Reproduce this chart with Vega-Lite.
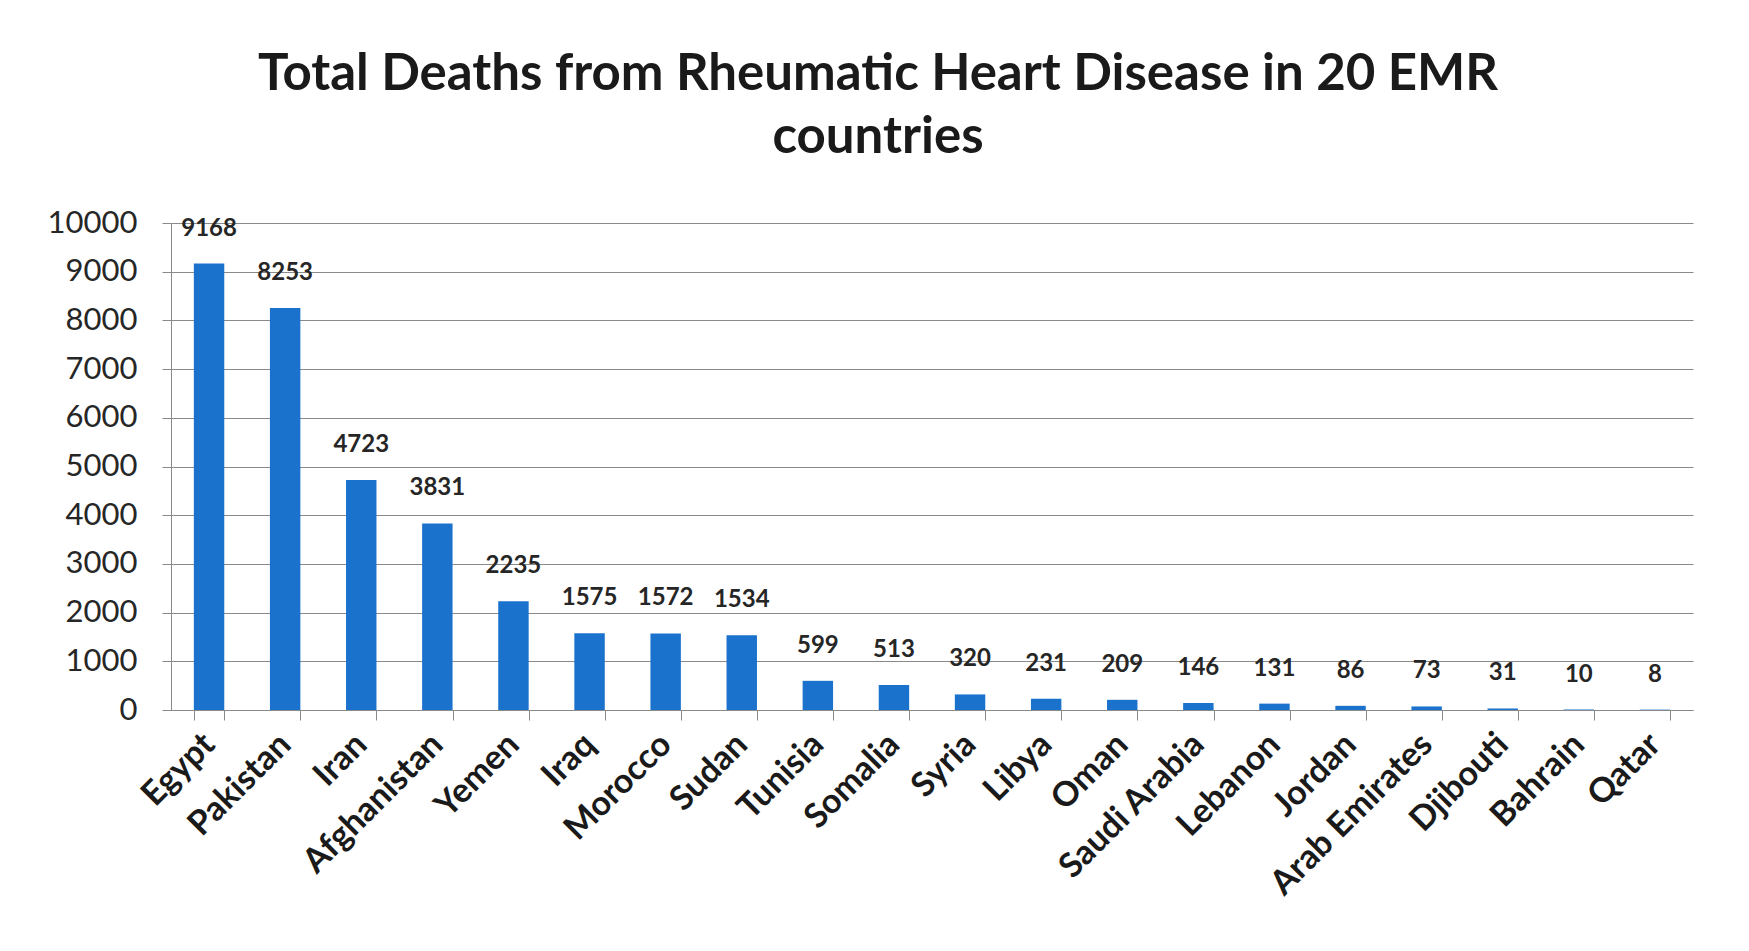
{
  "$schema": "https://vega.github.io/schema/vega-lite/v6.json",
  "autosize": {"type": "none"},
  "width": 1522,
  "height": 487,
  "padding": {"left": 171, "top": 223, "right": 56, "bottom": 241},
  "background": "white",
  "title": {
    "text": ["Total Deaths from Rheumatic Heart Disease in 20 EMR", "countries"],
    "font": "Lato",
    "fontSize": 51,
    "fontWeight": "bold",
    "color": "#1a1a1a",
    "lineHeight": 63,
    "anchor": "middle",
    "frame": "group",
    "baseline": "alphabetic",
    "dx": -54,
    "offset": 3
  },
  "config": {
    "view": {"stroke": null},
    "font": "Lato"
  },
  "data": {
    "values": [
      {"country": "Egypt", "deaths": 9168},
      {"country": "Pakistan", "deaths": 8253},
      {"country": "Iran", "deaths": 4723},
      {"country": "Afghanistan", "deaths": 3831},
      {"country": "Yemen", "deaths": 2235},
      {"country": "Iraq", "deaths": 1575},
      {"country": "Morocco", "deaths": 1572},
      {"country": "Sudan", "deaths": 1534},
      {"country": "Tunisia", "deaths": 599},
      {"country": "Somalia", "deaths": 513},
      {"country": "Syria", "deaths": 320},
      {"country": "Libya", "deaths": 231},
      {"country": "Oman", "deaths": 209},
      {"country": "Saudi Arabia", "deaths": 146},
      {"country": "Lebanon", "deaths": 131},
      {"country": "Jordan", "deaths": 86},
      {"country": "Arab Emirates", "deaths": 73},
      {"country": "Djibouti", "deaths": 31},
      {"country": "Bahrain", "deaths": 10},
      {"country": "Qatar", "deaths": 8}
    ]
  },
  "encoding": {
    "x": {
      "field": "country",
      "type": "nominal",
      "sort": null,
      "title": null,
      "scale": {"paddingInner": 0.6, "paddingOuter": 0.3},
      "axis": {
        "labelAngle": -45,
        "labelAlign": "right",
        "labelBaseline": "middle",
        "labelFont": "Lato",
        "labelFontSize": 34,
        "labelFontWeight": "bold",
        "labelColor": "#1a1a1a",
        "labelPadding": 19,
        "labelLimit": 0,
        "labelOverlap": false,
        "tickBand": "extent",
        "tickSize": 10,
        "tickColor": "#8a8a8a",
        "domainColor": "#8a8a8a",
        "grid": false
      }
    },
    "y": {
      "field": "deaths",
      "type": "quantitative",
      "title": null,
      "scale": {"domain": [0, 10000], "nice": false},
      "axis": {
        "values": [0, 1000, 2000, 3000, 4000, 5000, 6000, 7000, 8000, 9000, 10000],
        "format": "d",
        "labelFont": "Lato",
        "labelFontSize": 31,
        "labelColor": "#262626",
        "labelPadding": 25,
        "tickSize": 9,
        "tickColor": "#8a8a8a",
        "domainColor": "#8a8a8a",
        "gridColor": "#8a8a8a",
        "gridWidth": 1,
        "grid": true
      }
    }
  },
  "layer": [
    {"mark": {"type": "bar", "color": "#1B72CC"}},
    {
      "mark": {
        "type": "text",
        "dy": -35,
        "baseline": "middle",
        "font": "Lato",
        "fontSize": 24,
        "fontWeight": "bold",
        "color": "#262626"
      },
      "encoding": {"text": {"field": "deaths", "type": "quantitative", "format": "d"}}
    }
  ]
}
